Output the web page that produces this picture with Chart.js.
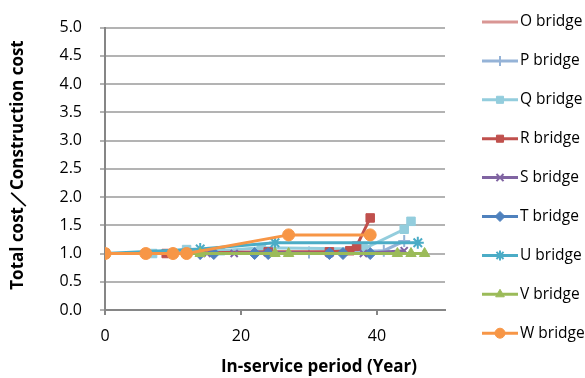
<!DOCTYPE html>
<html>
<head>
<meta charset="utf-8">
<script src="https://cdn.jsdelivr.net/npm/chart.js@4.4.0/dist/chart.umd.min.js"></script>
<style>
  html, body { margin: 0; padding: 0; background: #fff; }
  #wrap { width: 585px; height: 378px; }
</style>
</head>
<body>
<div id="wrap"><canvas id="costChart" width="585" height="378"></canvas></div>
<script>
// in-service year / (total cost / construction cost) for each bridge
const oYear = [0, 20, 38];
const oRatio = [1.0, 1.0, 1.0];
const pYear = [0, 14, 30, 41, 44];
const pRatio = [1.0, 1.0, 1.02, 1.05, 1.22];
const qYear = [0, 7, 12, 17, 23, 38, 44, 45];
const qRatio = [1.0, 1.0, 1.07, 1.05, 1.1, 1.08, 1.43, 1.57];
const rYear = [0, 9, 24, 33, 36, 37, 39];
const rRatio = [1.0, 1.0, 1.03, 1.03, 1.05, 1.13, 1.63];
const sYear = [0, 15, 19, 24, 33, 38, 44];
const sRatio = [1.0, 1.0, 1.0, 1.02, 1.0, 1.0, 1.05];
const tYear = [0, 14, 16, 22, 24, 33, 35, 39];
const tRatio = [1.0, 1.0, 1.0, 1.0, 1.0, 1.0, 1.0, 1.0];
const uYear = [0, 14, 25, 46];
const uRatio = [1.0, 1.08, 1.19, 1.19];
const vYear = [0, 14, 25, 27, 43, 45, 47];
const vRatio = [1.0, 1.0, 1.0, 1.0, 1.0, 1.0, 1.0];
const wYear = [0, 6, 10, 12, 27, 39];
const wRatio = [1.0, 1.0, 1.0, 1.0, 1.33, 1.33];

const names = ['O bridge', 'P bridge', 'Q bridge', 'R bridge', 'S bridge', 'T bridge', 'U bridge', 'V bridge', 'W bridge'];
const years = [oYear, pYear, qYear, rYear, sYear, tYear, uYear, vYear, wYear];
const ratios = [oRatio, pRatio, qRatio, rRatio, sRatio, tRatio, uRatio, vRatio, wRatio];
const colors = ['#d99694', '#95b3d7', '#93cddd', '#c0504d', '#8064a2', '#4f81bd', '#4bacc6', '#9bbb59', '#f79646'];
const markers = [false, 'cross', 'rect', 'rect', 'crossRot', 'rectRot', 'star', 'triangle', 'circle'];
const sizes = [0, 6, 6, 6, 5, 6, 6, 6, 6];

const font = '"Open Sans", "Liberation Sans", sans-serif';

const datasets = names.map((n, i) => ({
  label: n,
  data: years[i].map((x, j) => ({ x: x, y: ratios[i][j] })),
  borderColor: colors[i],
  backgroundColor: colors[i],
  borderWidth: 3,
  pointStyle: markers[i],
  pointRadius: sizes[i],
  pointBorderWidth: (markers[i] == 'cross' || markers[i] == 'crossRot' || markers[i] == 'star') ? 2 : 1,
  pointBorderColor: colors[i],
  tension: 0,
  order: 8 - i   // W on top like the original
}));

// legend drawn by hand: line with marker in the middle, like excel
const sideLegend = {
  id: 'sideLegend',
  afterDraw(chart) {
    const ctx = chart.ctx;
    ctx.save();
    names.forEach((n, i) => {
      const y = 22 + i * 38.9;
      ctx.strokeStyle = colors[i];
      ctx.fillStyle = colors[i];
      ctx.lineWidth = 3;
      ctx.beginPath();
      ctx.moveTo(482, y);
      ctx.lineTo(518, y);
      ctx.stroke();
      if (markers[i]) {
        const bw = datasets[i].pointBorderWidth;
        ctx.lineWidth = bw;
        Chart.helpers.drawPoint(ctx, { pointStyle: markers[i], radius: 5, rotation: 0, borderWidth: bw }, 500, y);
      }
      ctx.fillStyle = '#000';
      ctx.font = '15.5px ' + font;
      ctx.textBaseline = 'middle';
      ctx.textAlign = 'left';
      ctx.fillText(n, 520, y);
    });
    // axis titles (placed where the original has them)
    ctx.font = 'bold 17px ' + font;
    ctx.fillStyle = '#000';
    ctx.textAlign = 'center';
    ctx.fillText('In-service period (Year)', 319, 367);
    ctx.translate(18, 165);
    ctx.rotate(-Math.PI / 2);
    ctx.fillText('Total cost／Construction cost', 0, 0);
    ctx.restore();
  }
};

new Chart(document.getElementById('costChart'), {
  type: 'line',
  data: { datasets: datasets },
  plugins: [sideLegend],
  options: {
    responsive: false,
    animation: false,
    layout: { padding: { top: 23, right: 140, left: 0, bottom: 0 } },
    plugins: { legend: { display: false }, tooltip: { enabled: false } },
    scales: {
      x: {
        type: 'linear',
        min: 0, max: 50,
        afterBuildTicks: s => { s.ticks = s.ticks.filter(t => t.value % 20 === 0); },
        afterFit: s => { s.height = 68; },
        ticks: { stepSize: 20, color: '#000', font: { family: font, size: 16 }, padding: 12, maxRotation: 0 },
        grid: { drawOnChartArea: false, tickLength: 5, color: '#868686', lineWidth: 2 },
        border: { color: '#868686', width: 2 }
      },
      y: {
        min: 0, max: 5,
        afterFit: s => { s.width = 105; },
        ticks: { stepSize: 0.5, color: '#000', font: { family: font, size: 16 }, padding: 18, callback: v => v.toFixed(1) },
        grid: { color: '#b3b3b3', lineWidth: 2, tickLength: 5 },
        border: { color: '#868686', width: 2 }
      }
    }
  }
});
</script>
</body>
</html>
